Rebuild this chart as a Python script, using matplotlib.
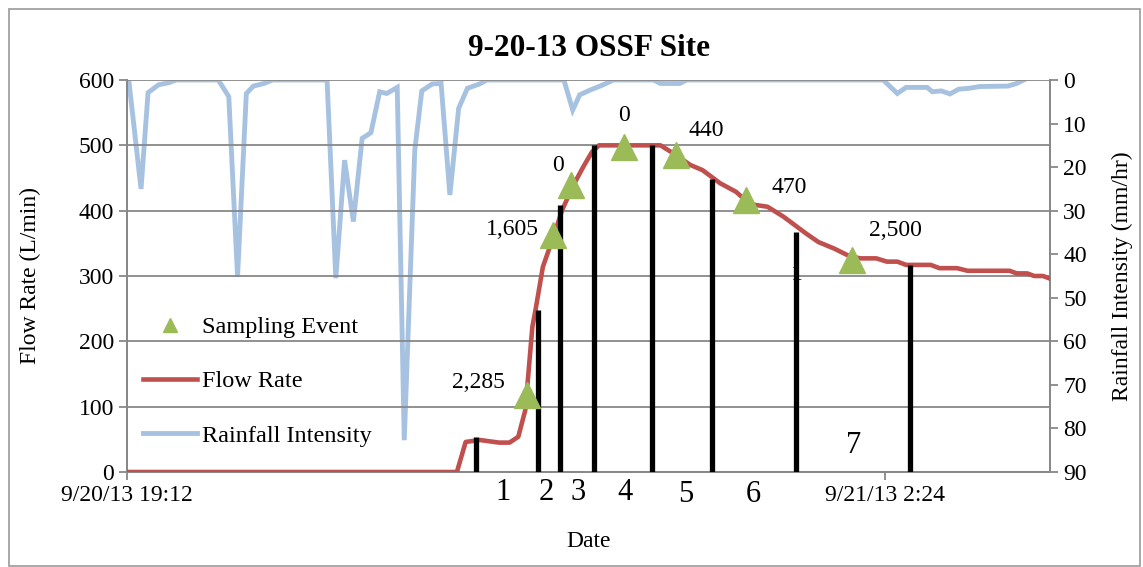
import matplotlib.pyplot as plt
from matplotlib.patches import Rectangle

plt.rcParams['font.family'] = ['Liberation Serif', 'DejaVu Serif']

# time in minutes after 9/20/13 19:12
rain_min = [1, 8, 12, 18, 24, 28, 52, 58, 63, 68, 72, 78, 83, 114, 119, 124, 129, 134,
            139, 144, 148, 154, 158, 164, 168, 174, 179, 184, 189, 194, 201, 205, 249,
            254, 258, 264, 269, 273, 277, 300, 304, 315, 319, 431, 439, 444, 456, 459,
            464, 469, 474, 480, 486, 502, 507, 511]
rain_mmhr = [0, 25, 2.9, 1.1, 0.6, 0, 0, 3.8, 45.2, 3.1, 1.4, 0.8, 0, 0, 45.5, 18.4, 32.5,
             13.4, 12.1, 2.7, 3.1, 1.7, 82.7, 16.1, 2.5, 0.9, 0.8, 26.4, 6.5, 1.9, 0.9, 0,
             0, 6.9, 3.4, 2.3, 1.5, 0.8, 0, 0, 0.8, 0.8, 0, 0, 3.1, 1.7, 1.7, 2.7, 2.5, 3.2,
             2.1, 1.9, 1.5, 1.4, 0.8, 0]

flow_min = [0, 188, 193, 201, 212, 218, 223, 227, 231, 233, 237, 243, 248, 254, 260, 265,
            269, 304, 307, 313, 321, 328, 338, 347, 355, 365, 374, 382, 387, 394, 403, 412,
            418, 427, 433, 439, 444, 458, 463, 473, 479, 503, 507, 513, 517, 522, 526]
flow_lpm = [0, 0, 46, 49, 45, 45, 54, 95, 222, 251, 314, 360, 401, 437, 467, 490, 500, 500,
            495, 485, 470, 462, 442, 429, 410, 406, 391, 375, 365, 352, 342, 330, 327, 327,
            322, 322, 317, 317, 312, 312, 308, 308, 304, 304, 300, 300, 296]

bar_min = [199, 234, 246.5, 266, 299, 333.5, 381, 446]
bar_top = [54, 248, 408, 500, 500, 448, 368, 317]

samp_min = [228, 243, 253, 283, 313, 353, 413]
samp_flow = [118, 363, 439, 497, 485, 417, 325]
samp_labels = ["2,285", "1,605", "0", "0", "440", "470", "2,500"]
samp_offsets = [(-49, 12), (-41, 5), (-13, 20), (0, 32), (30, 25), (43, 12), (44, 29)]

event_names = ["1", "2", "3", "4", "5", "6", "7"]
event_min = [214, 239, 257, 284, 318.5, 357, 414]
event_y = [-32, -32, -32, -32, -34, -34, 40]

tick_min = [0, 432]
tick_labels = ["9/20/13 19:12", "9/21/13 2:24"]

red = '#C0504D'
blue = '#A7C2E0'
green = '#9BBB59'
grey = '#888888'

fig = plt.figure(figsize=(11.43, 5.67), dpi=100)
fig.patches.append(Rectangle((9 / 1143, 1 / 567), 1131 / 1143, 557 / 567,
                             transform=fig.transFigure, fill=False, edgecolor='#999999', lw=1.2))
ax = fig.add_axes([127 / 1143, 1 - 472 / 567, 923 / 1143, 392 / 567])
ax2 = ax.twinx()
ax.set_zorder(ax2.get_zorder() + 1)
ax.patch.set_visible(False)

# rainfall on the right (inverted) axis
ax2.plot(rain_min, rain_mmhr, color=blue, lw=3.5, solid_joinstyle='miter', label='Rainfall Intensity')
ax2.set_ylim(90, 0)
ax2.set_yticks(range(0, 91, 10))
ax2.set_ylabel('Rainfall Intensity (mm/hr)', fontsize=17, labelpad=18)

# flow, drop lines and sampling events
ax.plot(flow_min, flow_lpm, color=red, lw=3.3, label='Flow Rate', zorder=3)
ax.vlines(bar_min, 0, bar_top, color='black', lw=3.8, zorder=4)
ax.plot(samp_min, samp_flow, linestyle='none', marker='^', ms=19, color=green,
        label='Sampling Event', zorder=5)
for xm, yv, lab, off in zip(samp_min, samp_flow, samp_labels, samp_offsets):
    ax.annotate(lab, (xm, yv), xytext=off, textcoords='offset pixels',
                ha='center', va='center', fontsize=17)
for xm, yv, lab in zip(event_min, event_y, event_names):
    ax.text(xm, yv, lab, ha='center', va='center', fontsize=22, clip_on=False)
ax.text(381.5, 303, '1', ha='center', va='center', fontsize=17, zorder=1)

ax.set_xlim(0, 526)
ax.set_ylim(0, 600)
ax.set_yticks(range(0, 601, 100))
ax.set_xticks(tick_min)
ax.set_xticklabels(tick_labels)
ax.grid(axis='y', color=grey, lw=1.3)
ax.set_axisbelow(True)
ax.set_ylabel('Flow Rate (L/min)', fontsize=17, labelpad=27)
ax.set_xlabel('Date', fontsize=17, labelpad=18)
ax.set_title('9-20-13 OSSF Site', fontsize=22.5, fontweight='bold', pad=17)

for a in (ax, ax2):
    for s in a.spines.values():
        s.set_color(grey)
        s.set_linewidth(1.3)
    a.spines['top'].set_visible(False)
    a.tick_params(colors='black', labelsize=17, length=6, width=1.3, color=grey)

h1, l1 = ax.get_legend_handles_labels()
h2, l2 = ax2.get_legend_handles_labels()
handles = [h1[1], h1[0], h2[0]]
labels = [l1[1], l1[0], l2[0]]
ax.legend(handles, labels, loc='upper left', bbox_to_anchor=(0.017, 0.397), frameon=False,
          fontsize=17.5, borderpad=0, borderaxespad=0, labelspacing=1.32, handlelength=2.25,
          handletextpad=0.2, markerscale=0.55)

fig.savefig('out.png', dpi=100)
